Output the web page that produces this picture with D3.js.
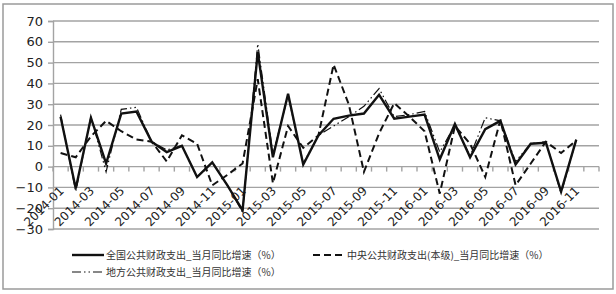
<!DOCTYPE html>
<html>
<head>
<meta charset="utf-8">
<script src="https://cdn.jsdelivr.net/npm/d3@7"></script>
<style>
  body { margin: 0; background: #fff; }
  svg { display: block; }
</style>
</head>
<body>
<div id="chart"></div>
<script>
// Data

var months = [];
[2014, 2015, 2016].forEach(function(yr) {
	for (var m = 1; m <= 12; m++) months.push(yr + '-' + (m < 10 ? '0' + m : m));
});

var yTicks = [-30, -20, -10, 0, 10, 20, 30, 40, 50, 60, 70];

var national = [24, -10.5, 23.5, 1.5, 25.5, 26.5, 12, 7, 10, -5, 2, -9, -21, 55, 4.5, 35, 1,
	15, 23, 24.5, 25.5, 34.5, 23, 24, 25, 3.5, 20.5, 4.5, 18, 22, 1, 11, 11.5, -12, 13];
var central = [6.5, 4.5, 14.5, 22, 17, 13, 12, 2.5, 15, 11, -9, -4, 1.5, 42, -8, 19.5, 9,
	15, 49, 30, -2.5, 16, 30.5, 24, 17, -13, 19.5, 11, -5, 22.5, -9, 1.5, 12, 6.5, 12.5];
var localExp = [25, -12, 24, -2.5, 27.5, 28.5, 12, 8, 10, -5, 2, -9, -22, 59, 6, 34, 1.5,
	15, 19.5, 24, 29, 37.5, 24, 25, 26.5, 7, 20, 5, 23.5, 22, 2.5, 11, 12, -13, 13];

var series = [
	{ name: '全国公共财政支出_当月同比增速（%）', values: national, width: 2.4, dash: null },
	{ name: '中央公共财政支出(本级)_当月同比增速（%）', values: central, width: 2, dash: '7,4' },
	{ name: '地方公共财政支出_当月同比增速（%）', values: localExp, width: 1.2, dash: '9,3,1.5,3,1.5,3' }
];

// Setup

var W = 616, H = 294;
var plotL = 53, plotR = 599, plotT = 21, plotB = 229;

var svg = d3.select('#chart').append('svg')
	.attr('width', W)
	.attr('height', H);

svg.append('rect')		// outer frame
	.attr('x', 3).attr('y', 4)
	.attr('width', 610).attr('height', 285)
	.attr('fill', '#fff')
	.attr('stroke', '#9a9a9a')
	.attr('stroke-width', 1.5);

var x = d3.scaleBand().domain(months).range([plotL, plotR]);
var y = d3.scaleLinear().domain([-30, 70]).range([plotB, plotT]);
var cx = function(i) { return x(months[i]) + x.bandwidth() / 2; };

// Gridlines & y axis

svg.append('g')
	.selectAll('line')
	.data(yTicks)
	.join('line')
	.attr('x1', plotL).attr('x2', plotR)
	.attr('y1', function(d) { return y(d); })
	.attr('y2', function(d) { return y(d); })
	.attr('stroke', '#a3a3a3')
	.attr('stroke-width', 1.4);

var yAxis = svg.append('g')
	.attr('transform', 'translate(' + plotL + ',0)')
	.call(d3.axisLeft(y).tickValues(yTicks).tickSize(5).tickPadding(5));
yAxis.select('.domain').attr('stroke', '#a3a3a3').attr('stroke-width', 1.4);
yAxis.selectAll('.tick line').attr('stroke', '#a3a3a3').attr('stroke-width', 1.4);
yAxis.selectAll('text')
	.attr('font-family', 'DejaVu Sans, sans-serif')
	.attr('font-size', 13)
	.attr('fill', '#222');

// Category axis at zero, ticks between categories

var zero = y(0);
svg.append('g')
	.selectAll('line')
	.data(d3.range(months.length + 1))
	.join('line')
	.attr('x1', function(k) { return plotL + k * x.bandwidth(); })
	.attr('x2', function(k) { return plotL + k * x.bandwidth(); })
	.attr('y1', zero).attr('y2', zero + 5)
	.attr('stroke', '#a3a3a3')
	.attr('stroke-width', 1.4);

svg.append('g')
	.selectAll('text')
	.data(months.filter(function(d, i) { return i % 2 === 0; }))
	.join('text')
	.attr('transform', function(d) {
		return 'translate(' + (x(d) + x.bandwidth() / 2 + 1) + ',' + (zero + 22) + ') rotate(-45)';
	})
	.attr('text-anchor', 'end')
	.attr('dy', '0.35em')
	.attr('font-family', 'DejaVu Sans, sans-serif')
	.attr('font-size', 12)
	.attr('fill', '#222')
	.text(function(d) { return d; });

// Lines

var line = d3.line()
	.x(function(d, i) { return cx(i); })
	.y(function(d) { return y(d); });

series.forEach(function(s) {
	svg.append('path')
		.attr('d', line(s.values))
		.attr('fill', 'none')
		.attr('stroke', '#111')
		.attr('stroke-width', s.width)
		.attr('stroke-dasharray', s.dash)
		.attr('stroke-linejoin', 'miter');
});

// Legend

var legendPos = [[72, 255], [313, 255], [72, 272]];

series.forEach(function(s, i) {
	var p = legendPos[i];
	svg.append('line')
		.attr('x1', p[0]).attr('x2', p[0] + 32)
		.attr('y1', p[1]).attr('y2', p[1])
		.attr('stroke', '#111')
		.attr('stroke-width', s.width)
		.attr('stroke-dasharray', s.dash);
	svg.append('text')
		.attr('x', p[0] + 34)
		.attr('y', p[1])
		.attr('dy', '0.35em')
		.attr('font-family', 'Noto Sans CJK SC, sans-serif')
		.attr('font-size', 10)
		.attr('fill', '#333')
		.text(s.name);
});
</script>
</body>
</html>
